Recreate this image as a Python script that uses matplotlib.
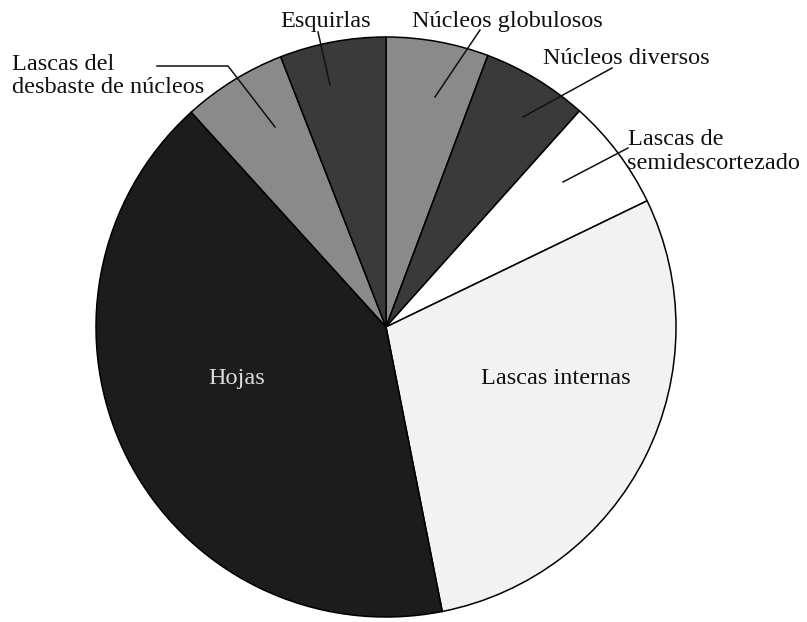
import matplotlib
matplotlib.use("Agg")
import matplotlib.pyplot as plt

# Data (percent shares, clockwise from 12 o'clock)
categories = ["Núcleos globulosos", "Núcleos diversos", "Lascas de\nsemidescortezado",
              "Lascas internas", "Hojas", "Lascas del\ndesbaste de núcleos", "Esquirlas"]
values = [5.7, 5.9, 6.2, 29.0, 41.3, 5.8, 5.9]
colors = ["#8a8a8a", "#3a3a3a", "#ffffff", "#f2f2f2", "#1c1c1c", "#8a8a8a", "#3a3a3a"]

W, H = 807, 622
fig = plt.figure(figsize=(W / 100, H / 100), dpi=100)
ax = fig.add_axes([0, 0, 1, 1])

def py(y):
    return H - y

ax.pie(values, colors=colors, startangle=90, counterclock=False,
       center=(386, py(327)), radius=290,
       wedgeprops=dict(edgecolor="black", linewidth=1.1))
ax.set_xlim(0, W)
ax.set_ylim(0, H)
ax.set_aspect("equal")
ax.axis("off")

font = dict(family="Liberation Serif", fontsize=17.5, color="#111111")

# outside labels
ax.text(326, py(27), "Esquirlas", ha="center", va="baseline", **font)
ax.text(412, py(27), "Núcleos globulosos", ha="left", va="baseline", **font)
ax.text(543, py(64), "Núcleos diversos", ha="left", va="baseline", **font)
ax.text(628, py(145), "Lascas de", ha="left", va="baseline", **font)
ax.text(627, py(169), "semidescortezado", ha="left", va="baseline", **font)
ax.text(12, py(70), "Lascas del", ha="left", va="baseline", **font)
ax.text(12, py(93), "desbaste de núcleos", ha="left", va="baseline", **font)

# inside labels
ax.text(237, py(384), "Hojas", ha="center", va="baseline",
        family="Liberation Serif", fontsize=17.5, color="#dcdcdc")
ax.text(556, py(384), "Lascas internas", ha="center", va="baseline", **font)

# leader lines
lk = dict(color="#111111", linewidth=1.1)
ax.plot([318, 330], [py(32), py(85)], **lk)
ax.plot([480, 435], [py(30), py(97)], **lk)
ax.plot([612, 523], [py(68), py(117)], **lk)
ax.plot([628, 563], [py(148), py(182)], **lk)
ax.plot([157, 228, 275], [py(66), py(66), py(127)], **lk)

fig.savefig("out.png", dpi=100, facecolor="white")
